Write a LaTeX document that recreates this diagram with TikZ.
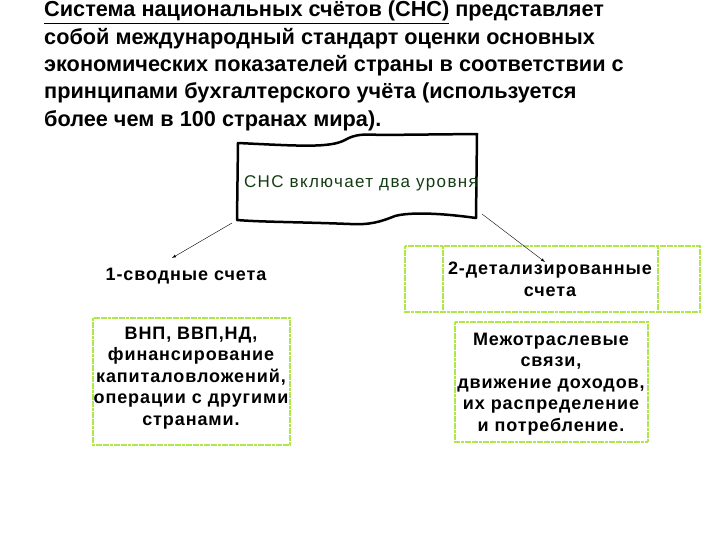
\documentclass[tikz,border=0pt]{standalone}
\usepackage{fontspec}
\setmainfont{Liberation Sans}
\definecolor{lgreen}{RGB}{175,232,70}
\definecolor{dgreen}{RGB}{20,60,20}
\begin{document}
\begin{tikzpicture}[x=1pt,y=-1pt,
  gbox/.style={draw=lgreen,line width=2.5pt,dash pattern=on 3pt off 0.6pt},
  conn/.style={-latex,thin},
  boxtxt/.style={align=center,font=\bfseries\fontsize{18}{21.5}\selectfont\addfontfeature{LetterSpace=5}},
  lvltxt/.style={align=center,font=\bfseries\fontsize{18}{22}\selectfont\addfontfeature{LetterSpace=5}}]
\useasboundingbox (0,0) rectangle (720,540);
\node[anchor=north west,align=left,inner sep=0,font=\bfseries\fontsize{21.7}{27.3}\selectfont] (title) at (44,1)
{\underline{Система национальных счётов (СНС)} представляет\\
собой международный стандарт оценки основных\\
экономических показателей страны в соответствии с\\
принципами бухгалтерского учёта (используется\\
более чем в 100 странах мира).};
% banner
\draw[line width=2.5pt,line join=round] (238,143) .. controls (300,146) and (330,148) .. (345,140)
  .. controls (355,134) and (365,134) .. (380,135) -- (477,134) -- (476,218)
  .. controls (440,213) and (410,212) .. (395,216) .. controls (380,222) and (370,225) .. (350,224)
  .. controls (300,222) and (260,222) .. (237,220) -- cycle;
\node[font=\fontsize{17}{18}\selectfont\addfontfeature{LetterSpace=8},text=dgreen] (banner) at (361,183) {СНС включает два уровня};
\coordinate (bl) at (232,223);
\coordinate (br) at (482,214);
% right top box
\draw[gbox] (405,246) rectangle (700,312);
\draw[gbox] (443,246) -- (443,312);
\draw[gbox] (658,246) -- (658,312);
\node[lvltxt] (r1) at (550,279) {2-детализированные\\счета};
\node[lvltxt] (l1) at (186,276) {1-сводные счета};
\draw[conn] (bl) -- (172,258);
\draw[conn] (br) -- (545,262);
% lower boxes
\draw[gbox] (93,318) rectangle (290,445);
\node[boxtxt] (l2) at (191,378)
{ВНП, ВВП,НД,\\ финансирование\\капиталовложений,\\операции с другими\\странами.};
\draw[gbox] (455,322) rectangle (648,442);
\node[boxtxt] (r2) at (551,384)
{Межотраслевые\\связи,\\движение доходов,\\их распределение\\и потребление.};
\end{tikzpicture}
\end{document}
